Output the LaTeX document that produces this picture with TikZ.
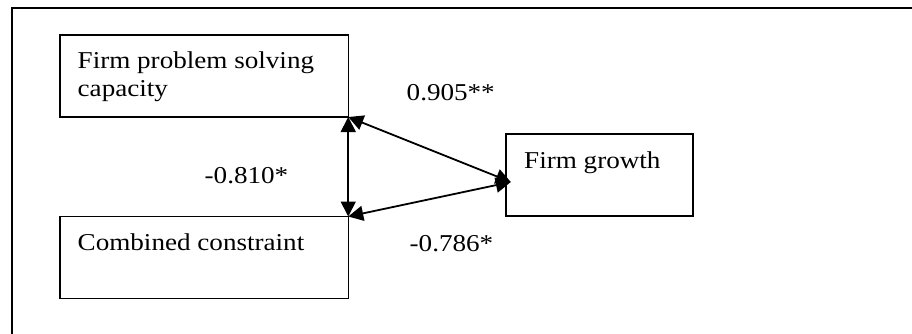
\documentclass[tikz,border=0pt]{standalone}
\usepackage{fontspec}
\setmainfont[FakeStretch=1.12]{Liberation Serif}
\usetikzlibrary{arrows.meta}
\begin{document}
\begin{tikzpicture}[x=1pt,y=-1pt,
  box/.style={draw=black,line width=1.5pt,minimum width=#1,inner sep=0pt,outer sep=0pt},
  lbl/.style={anchor=base west,inner sep=0pt,font=\fontsize{24.2}{27.5}\selectfont},
  link/.style={line width=1.8pt,{Triangle[length=15pt,width=15pt]}-{Triangle[length=15pt,width=15pt]}}]
\useasboundingbox (0,0) rectangle (912,334);
% outer frame (left and top visible)
\draw[line width=2pt] (12,334) -- (12,8) -- (912,8);
% boxes
\node[box=288.5pt,minimum height=82pt] (b1) at (204,76) {};
\node[box=288.5pt,minimum height=82pt] (b2) at (204,257.5) {};
\node[box=187pt,minimum height=82pt] (fg) at (599.3,175) {};
% box texts
\node[lbl,align=left] (t1) at (77.5,96.5) {Firm problem solving\\capacity};
\node[lbl] (t2) at (77.5,250.5) {Combined constraint};
\node[lbl] (t3) at (524,168) {Firm growth};
% coefficient labels
\node[lbl] (c1) at (406.5,101) {0.905**};
\node[lbl] (c2) at (204.5,183) {-0.810*};
\node[lbl] (c3) at (409.5,251) {-0.786*};
% connectors
\coordinate (fgin) at ([xshift=5pt,yshift=-7pt]fg.west);
\draw[link] (b1.south east) -- (b2.north east);
\draw[link] (b1.south east) -- (fgin);
\draw[link] (b2.north east) -- (fgin);
\end{tikzpicture}
\end{document}
